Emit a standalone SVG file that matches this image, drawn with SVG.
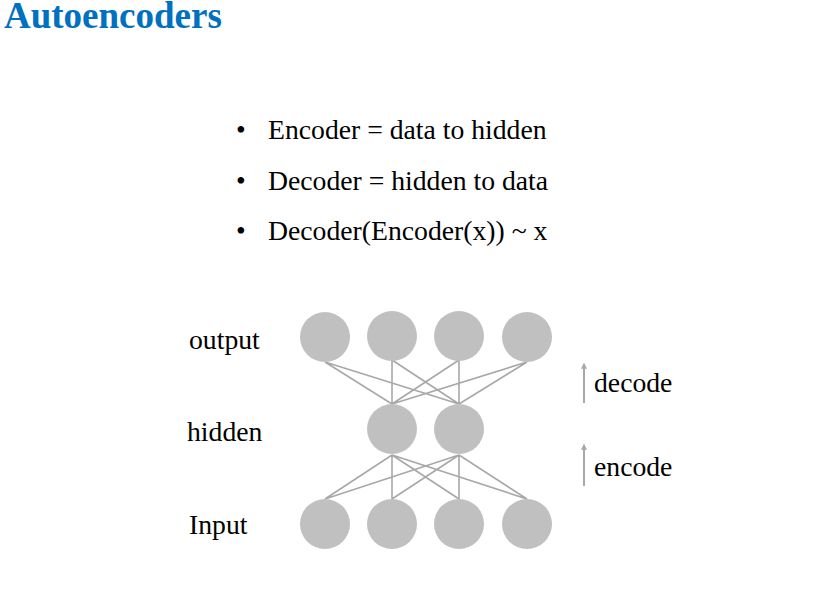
<svg xmlns="http://www.w3.org/2000/svg" width="824" height="596" viewBox="0 0 824 596">
<defs>
<style>
.t{font-family:"Liberation Serif","Times New Roman",serif;font-size:27.7px;fill:#000}
.title{font-family:"Liberation Serif","Times New Roman",serif;font-size:37px;font-weight:bold;fill:#0070C0}
.n{fill:#c0c0c0}
.e{stroke:#a8a8a8;stroke-width:1.6;fill:none}
.a{stroke:#a8a8a8;stroke-width:2;fill:none}
</style>
<marker id="ah" viewBox="0 0 10 10" refX="8" refY="5" markerWidth="7" markerHeight="6" orient="auto" markerUnits="userSpaceOnUse">
<path d="M0,0 L10,5 L0,10 Z" fill="#a8a8a8"/>
</marker>
</defs>
<rect width="824" height="596" fill="#fff"/>
<text class="title" x="4" y="28">Autoencoders</text>
<g id="bullets">
<text class="t" x="236" y="139">•</text><text class="t" x="268" y="139">Encoder = data to hidden</text>
<text class="t" x="236" y="190">•</text><text class="t" x="268" y="190">Decoder = hidden to data</text>
<text class="t" x="236" y="240">•</text><text class="t" x="268" y="240">Decoder(Encoder(x)) ~ x</text>
</g>
<g id="labels">
<text class="t" x="189" y="349">output</text>
<text class="t" x="187" y="441">hidden</text>
<text class="t" x="189" y="534">Input</text>
<text class="t" x="594" y="392">decode</text>
<text class="t" x="594" y="476">encode</text>
</g>
<g id="connectors">
<path class="e" d="M325,362 L392,404 M325,362 L459,404 M392,360 L392,404 M392,360 L459,404 M459,360 L392,404 M459,360 L459,404 M527,362 L392,404 M527,362 L459,404"/>
<path class="e" d="M392,455 L325,499 M392,455 L392,499 M392,455 L459,499 M392,455 L527,499 M459,455 L325,499 M459,455 L392,499 M459,455 L459,499 M459,455 L527,499"/>
<line class="a" x1="584" y1="403" x2="584" y2="364" marker-end="url(#ah)"/>
<line class="a" x1="584" y1="486" x2="584" y2="445" marker-end="url(#ah)"/>
</g>
<g id="output">
<circle class="n" cx="325" cy="337" r="25"/><circle class="n" cx="392" cy="336" r="25"/><circle class="n" cx="459" cy="336" r="25"/><circle class="n" cx="527" cy="337" r="25"/>
</g>
<g id="hidden">
<circle class="n" cx="392" cy="429" r="25"/><circle class="n" cx="459" cy="429" r="25"/>
</g>
<g id="input">
<circle class="n" cx="325" cy="524" r="25"/><circle class="n" cx="392" cy="524" r="25"/><circle class="n" cx="459" cy="524" r="25"/><circle class="n" cx="527" cy="524" r="25"/>
</g>
</svg>
